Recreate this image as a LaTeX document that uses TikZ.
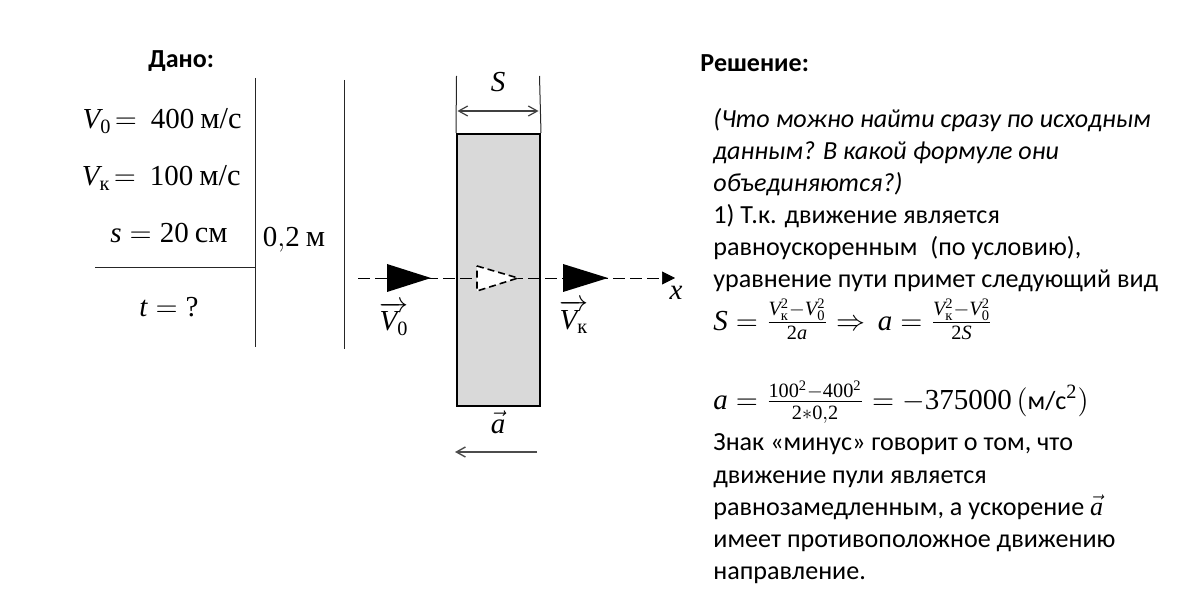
\RequirePackage{fix-cm}
\documentclass[tikz,border=0pt]{standalone}
\usepackage{mathtools}
\usepackage[no-math]{fontspec}
\setmainfont{Carlito}
\newfontfamily\cyrserif[NFSSFamily=lsf]{Liberation Serif}
\DeclareSymbolFont{serifit}{TU}{lsf}{m}{it}
\DeclareSymbolFont{serifrm}{TU}{lsf}{m}{n}
\DeclareMathSymbol{V}{\mathalpha}{serifit}{`V}
\DeclareMathSymbol{S}{\mathalpha}{serifit}{`S}
\DeclareMathSymbol{a}{\mathalpha}{serifit}{`a}
\DeclareMathSymbol{s}{\mathalpha}{serifit}{`s}
\DeclareMathSymbol{t}{\mathalpha}{serifit}{`t}
\DeclareMathSymbol{x}{\mathalpha}{serifit}{`x}
\DeclareMathSymbol{0}{\mathalpha}{serifrm}{`0}
\DeclareMathSymbol{1}{\mathalpha}{serifrm}{`1}
\DeclareMathSymbol{2}{\mathalpha}{serifrm}{`2}
\DeclareMathSymbol{3}{\mathalpha}{serifrm}{`3}
\DeclareMathSymbol{4}{\mathalpha}{serifrm}{`4}
\DeclareMathSymbol{5}{\mathalpha}{serifrm}{`5}
\DeclareMathSymbol{7}{\mathalpha}{serifrm}{`7}
\DeclareMathSymbol{?}{\mathalpha}{serifrm}{`?}
\usetikzlibrary{arrows.meta}
\newcommand{\cyr}[1]{\text{\cyrserif #1}}
\newcommand{\unitcyr}[1]{\text{\cyrserif\fontsize{15.2}{16}\selectfont #1}}
\tikzset{
    textline/.style={anchor=base west, inner sep=0pt, font=\fontsize{13.05}{16}\selectfont},
    boldline/.style={textline, font=\fontsize{13}{16}\selectfont\bfseries},
    italline/.style={textline, font=\fontsize{13.05}{16}\selectfont\itshape},
    mathline/.style={anchor=base, inner sep=0pt, font=\fontsize{14.5}{16}\selectfont},
    thinline/.style={line width=0.5pt, draw=black!85},
    dimline/.style={line width=0.6pt, draw=black!75, {Straight Barb[length=4.5pt,width=5pt]}-{Straight Barb[length=4.5pt,width=5pt]}},
    bullet/.style={fill=black},
}
\begin{document}
\begin{tikzpicture}[x=0.5pt, y=-0.5pt]
    \useasboundingbox (0,0) rectangle (1200,593);

    % given
    \node[boldline] (given) at (148,68) {Дано:};
    \node[mathline, anchor=base east] (v0) at (242,129) {$V_0\! =\hspace{3pt}400\hspace{3pt}\unitcyr{м/с}$};
    \node[mathline, anchor=base east] (vk) at (241,186) {$V_{\cyr{к}}\! =\hspace{3pt}100\hspace{3pt}\unitcyr{м/с}$};
    \node[mathline, anchor=base east] (dist) at (228,243) {$s = 20\hspace{3pt}\unitcyr{см}$};
    \node[mathline] (time) at (169,317) {$t = ?$};
    \node[mathline] (conv) at (294,247) {$0{,}2\hspace{3pt}\unitcyr{м}$};
    \coordinate (bar1a) at (255,78);
    \coordinate (bar1b) at (255,347);
    \coordinate (bar2a) at (344.5,80);
    \coordinate (bar2b) at (344.5,349);
    \coordinate (rule1) at (95,268);
    \coordinate (rule2) at (255,268);
    \draw[thinline] (bar1a) -- (bar1b);
    \draw[thinline] (bar2a) -- (bar2b);
    \draw[thinline] (rule1) -- (rule2);

    % plate
    \node[draw, line width=1pt, fill=black!15, inner sep=0pt, minimum width=41.5pt, minimum height=136pt] (plate) at (498.5,270) {};
    \coordinate (dimL) at (456.5,76);
    \coordinate (dimR) at (539.5,76);
    \coordinate (dimLa) at (457.5,111);
    \coordinate (dimRa) at (538.5,111);
    \draw[thinline] (dimL) -- (plate.north west);
    \draw[thinline] (dimR) -- (plate.north east);
    \draw[dimline] (dimLa) -- (dimRa);
    \node[mathline] (slabel) at (498,92) {$S$};
    \node[mathline] (alabel) at (498,433) {$\vec{a}$};
    \coordinate (accA) at (537,452);
    \coordinate (accB) at (455,452);
    \draw[line width=0.7pt, draw=black!70, -{Straight Barb[length=4.5pt,width=5pt]}] (accA) -- (accB);

    % axis
    \coordinate (axisA) at (358,278);
    \coordinate (axisB) at (675,278);
    \draw[line width=0.35pt, dash pattern=on 6pt off 2.5pt, -{Triangle[length=6.5pt,width=6.5pt]}] (axisA) -- (axisB);
    \node[mathline] (xlabel) at (676,300) {$x$};

    % bullets
    \coordinate (b1) at (387,264);
    \coordinate (b2) at (563,264);
    \coordinate (b3) at (477,266);
    \fill[bullet] (b1) -- ++(44,14) -- ++(-44,14) -- cycle;
    \fill[bullet] (b2) -- ++(45,14) -- ++(-45,14) -- cycle;
    \draw[fill=white, line width=0.8pt, dash pattern=on 3.5pt off 2pt] (b3) -- ++(41,12) -- ++(-41,13) -- cycle;
    \node[mathline] (v0label) at (394,331) {$\overrightarrow{V_0}$};
    \node[mathline] (vklabel) at (574,329) {$\overrightarrow{V_{\cyr{к}}}$};

    % solution
    \node[boldline] (sol) at (700,72) {Решение:};
    \node[italline] (q1) at (713,128) {(Что можно найти сразу по исходным};
    \node[italline] (q2) at (713,160) {данным? В какой формуле они};
    \node[italline] (q3) at (713,192) {объединяются?)};
    \node[textline] (l1) at (713,224) {1) Т.к. движение является};
    \node[textline] (l2) at (713,256) {равноускоренным\hspace{3.5pt}\ (по условию),};
    \node[textline] (l3) at (713,288) {уравнение пути примет следующий вид};
    \node[textline, font=\fontsize{14.5}{16}\selectfont] (f1) at (713,330) {$S = \frac{V_{\cyr{к}}^2-V_0^2}{2a}\;{\Rightarrow}\;\,a = \frac{V_{\cyr{к}}^2-V_0^2}{2S}$};
    \node[textline, font=\fontsize{14.5}{16}\selectfont] (f2) at (713,409) {$a = \frac{100^2-400^2}{2*0{,}2} = -375000\,(\text{\fontsize{13.05}{16}\selectfont м/с}^2)$};
    \node[textline] (l4) at (713,451) {Знак «минус» говорит о том, что};
    \node[textline] (l5) at (713,483) {движение пули является};
    \node[textline] (l6) at (713,515) {равнозамедленным, а ускорение $\vec{a}$};
    \node[textline] (l7) at (713,547) {имеет противоположное движению};
    \node[textline] (l8) at (713,579) {направление.};
\end{tikzpicture}
\end{document}
